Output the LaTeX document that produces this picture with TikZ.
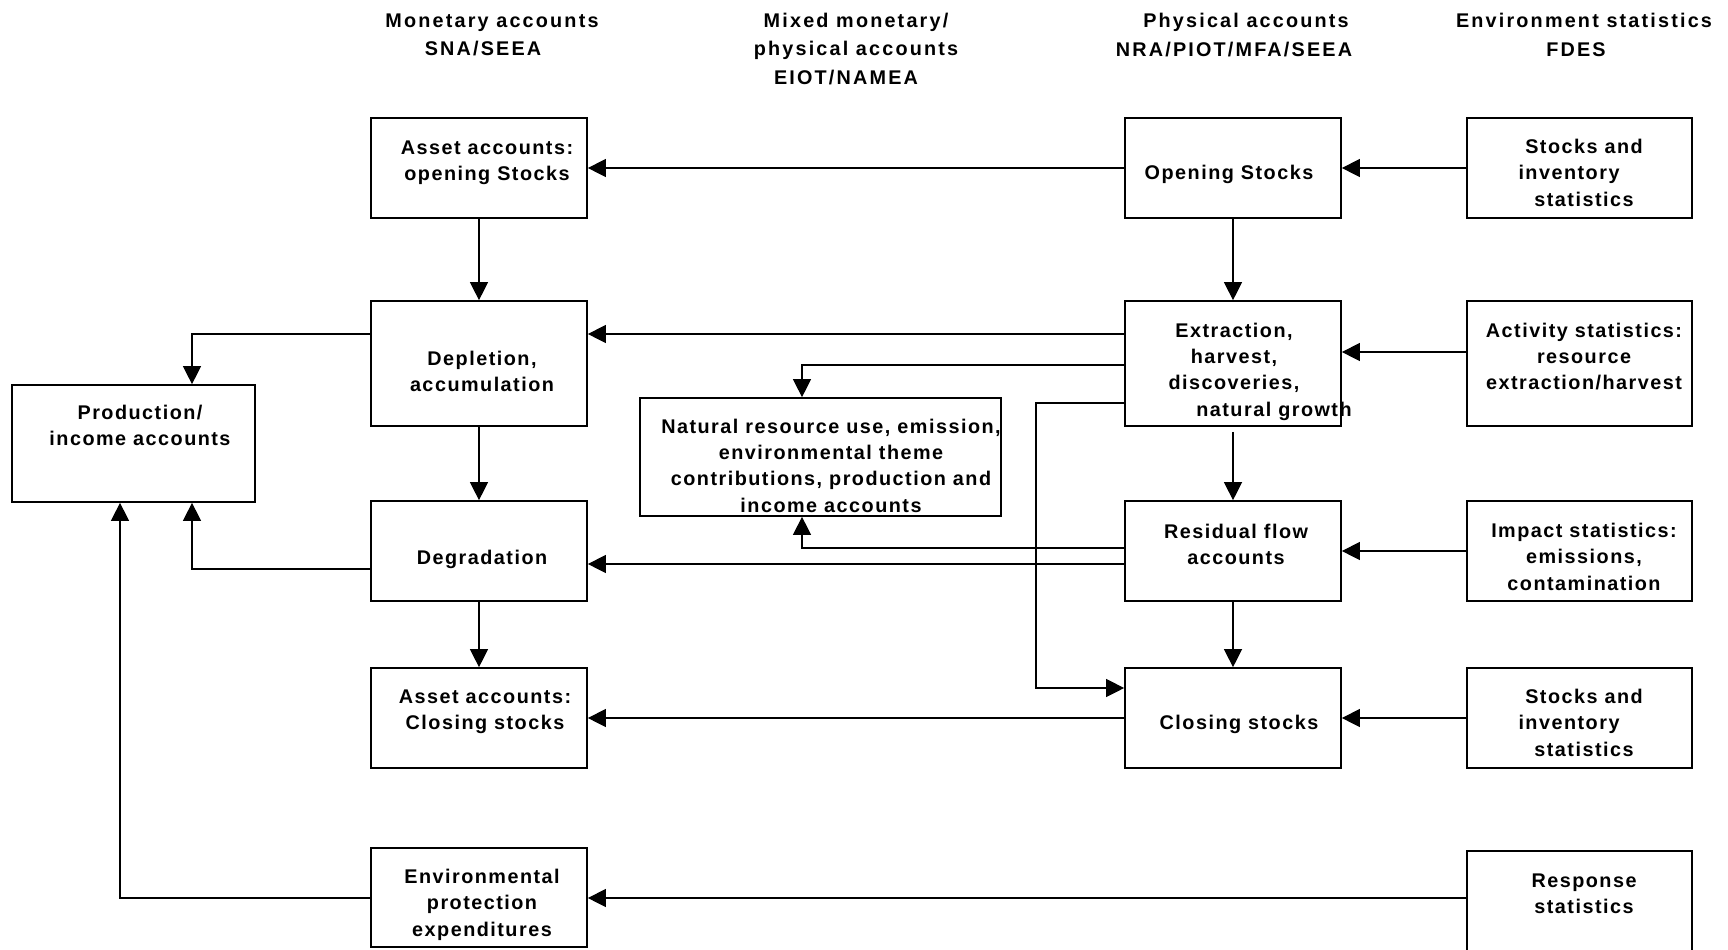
\documentclass[tikz,border=0pt]{standalone}
\usepackage{fontspec}
\setmainfont{Liberation Sans}[LetterSpace=7.5]
\newfontfamily\hdrfont{Liberation Sans}[LetterSpace=11]
\usetikzlibrary{arrows.meta,calc}
\tikzset{
  box/.style={draw, line width=0.85pt, inner sep=0pt, rectangle},
  txt/.style={align=center, inner sep=0pt, yshift=-1.8pt, font=\bfseries\fontsize{9.9pt}{13.2pt}\selectfont},
  hdr/.style={align=center, inner sep=0pt, yshift=-0.5pt, font=\hdrfont\bfseries\fontsize{9.9pt}{14.3pt}\selectfont},
  conn/.style={line width=0.6pt, -{Triangle[length=9pt,width=9pt]}},
}
\newcommand\mybx[5]{\node[box, minimum width={(#4-#2)*0.5pt}, minimum height={(#5-#3)*0.5pt}] (#1) at ({(#2+#4)/2},{(#3+#5)/2}) {};}
\begin{document}
\begin{tikzpicture}[x=0.5pt,y=-0.5pt]
\useasboundingbox (0,0) rectangle (1728,949);
% headers
\node[hdr] (h1) at (492,34) {Monetary accounts\\\hbox{SNA/SEEA\kern9pt}};
\node[hdr] (h2) at (856,48) {Mixed monetary/\\physical accounts\\\hbox{EIOT/NAMEA\kern10pt}};
\node[hdr] (h3) at (1246,34) {Physical accounts\\\hbox{NRA/PIOT/MFA/SEEA\kern12pt}};
\node[hdr] (h4) at (1584,34) {Environment statistics\\\hbox{FDES\kern8pt}};
% boxes
\mybx{ao}{371}{118}{587}{218}
\mybx{os}{1125}{118}{1341}{218}
\mybx{sa}{1467}{118}{1692}{218}
\mybx{dep}{371}{301}{587}{426}
\mybx{ext}{1125}{301}{1341}{426}
\mybx{act}{1467}{301}{1692}{426}
\mybx{prod}{12}{385}{255}{502}
\mybx{nat}{640}{398}{1001}{516}
\mybx{deg}{371}{501}{587}{601}
\mybx{res}{1125}{501}{1341}{601}
\mybx{imp}{1467}{501}{1692}{601}
\mybx{ac}{371}{668}{587}{768}
\mybx{cs}{1125}{668}{1341}{768}
\mybx{sb}{1467}{668}{1692}{768}
\mybx{ep}{371}{848}{587}{947}
\mybx{rs}{1467}{851}{1692}{962}
% texts
\node[txt] (tao) at (487,159) {Asset accounts:\\opening Stocks};
\node[txt] (tos) at (1229,171) {Opening Stocks};
\node[txt] (tsa) at (1584,169) {Stocks and\\\hbox{inventory\kern15pt}\\statistics};
\node[txt] (tdep) at (482,368) {Depletion,\\accumulation};
\node[txt] (text) at (1234,368) {Extraction,\\harvest,\\discoveries,\\\hspace*{40pt}natural growth};
\node[txt] (tact) at (1584,353) {Activity statistics:\\resource\\extraction/harvest};
\node[txt] (tprod) at (140,422) {Production/\\income accounts};
\node[txt] (tnat) at (831,462) {Natural resource use, emission,\\environmental theme\\contributions, production and\\income accounts};
\node[txt] (tdeg) at (482,556) {Degradation};
\node[txt] (tres) at (1236,541) {Residual flow\\accounts};
\node[txt] (timp) at (1584,553) {Impact statistics:\\emissions,\\contamination};
\node[txt] (tac) at (485,708) {Asset accounts:\\Closing stocks};
\node[txt] (tcs) at (1239,721) {Closing stocks};
\node[txt] (tsb) at (1584,719) {Stocks and\\\hbox{inventory\kern15pt}\\statistics};
\node[txt] (tep) at (482,901) {Environmental\\protection\\expenditures};
\node[txt] (trs) at (1584,890) {Response\\statistics};
% helper coordinates
\coordinate (h334) at (0,334);
\coordinate (h352) at (0,352);
\coordinate (h365) at (0,365);
\coordinate (h403) at (0,403);
\coordinate (h688) at (0,688);
\coordinate (h548) at (0,548);
\coordinate (h564) at (0,564);
\coordinate (h569) at (0,569);
\coordinate (h898) at (0,898);
\coordinate (v192) at (192,0);
\coordinate (v802) at (802,0);
\coordinate (v1036) at (1036,0);
\coordinate (v120) at (120,0);
% connectors
\draw[conn] (os.west) -- (ao.east);
\draw[conn] (sa.west) -- (os.east);
\draw[conn] (ao.south) -- (dep.north);
\draw[conn] (os.south) -- (ext.north);
\draw[conn] (ext.west |- h334) -- (dep.east |- h334);
\draw[conn] (act.west |- h352) -- (ext.east |- h352);
\draw[conn] (dep.west |- h334) -| (prod.north -| v192);
\draw[conn] (ext.west |- h365) -| (nat.north -| v802);
\draw[conn] (ext.west |- h403) -- (v1036 |- h403) -- (v1036 |- h688) -- (cs.west |- h688);
\draw[conn] ($(ext.south)+(0,5)$) -- (res.north);
\draw[conn] (dep.south) -- (deg.north);
\draw[conn] (res.west |- h548) -| (nat.south -| v802);
\draw[conn] (res.west |- h564) -- (deg.east |- h564);
\draw[conn] (deg.west |- h569) -| (prod.south -| v192);
\draw[conn] (imp.west) -- (res.east);
\draw[conn] (deg.south) -- (ac.north);
\draw[conn] (res.south) -- (cs.north);
\draw[conn] (cs.west) -- (ac.east);
\draw[conn] (sb.west) -- (cs.east);
\draw[conn] (ep.west |- h898) -| (prod.south -| v120);
\draw[conn] (rs.west |- h898) -- (ep.east |- h898);
\end{tikzpicture}
\end{document}
